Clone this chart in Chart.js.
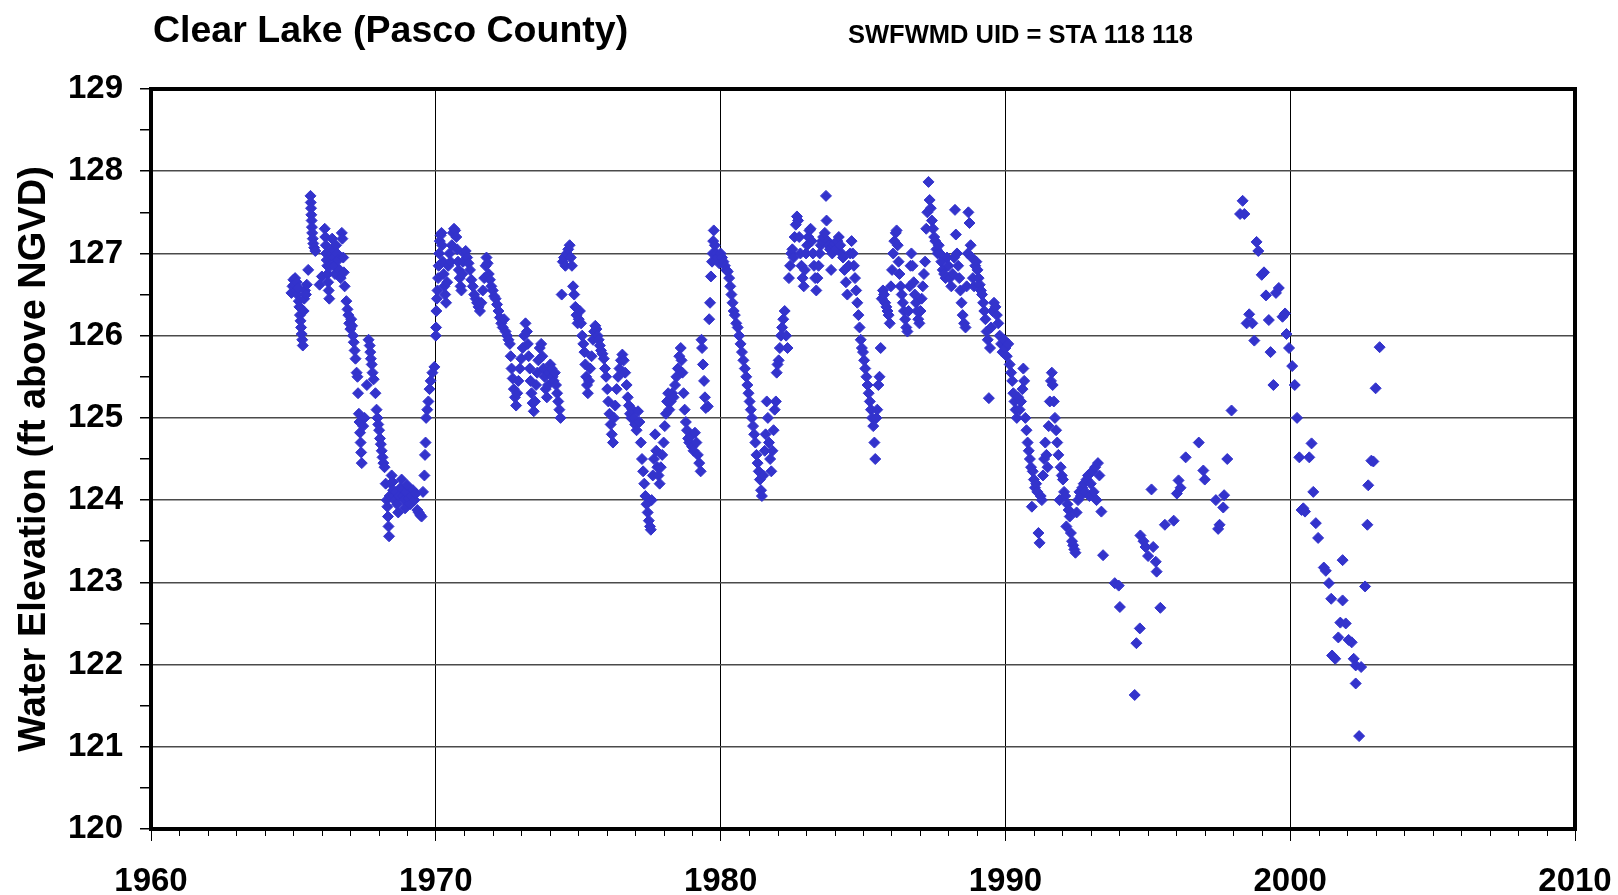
<!DOCTYPE html>
<html lang="en">
<head>
  <meta charset="UTF-8">
  <title>Clear Lake (Pasco County)</title>
  <script src="https://cdn.jsdelivr.net/npm/chart.js"></script>
  <style>
    html, body {
      margin: 0;
      padding: 0;
      background: #fff;
    }

    .wrap {
      position: relative;
      width: 1618px;
      height: 895px;
    }

    .title {
      position: absolute;
      left: 153px;
      top: 10px;
      font: bold 37.5px "Liberation Sans", Arial, sans-serif;
      line-height: 38px;
      color: #000;
      white-space: nowrap;
    }

    .subtitle {
      position: absolute;
      left: 848px;
      top: 21px;
      font: bold 25.5px "Liberation Sans", Arial, sans-serif;
      line-height: 26px;
      color: #000;
      white-space: nowrap;
    }
  </style>
</head>
<body>

  <div class="wrap">
    <canvas id="lakeChart"></canvas>
    <div class="title">Clear Lake (Pasco County)</div>
    <div class="subtitle">SWFWMD UID = STA 118 118</div>
  </div>

  <script>
    // [decimal year, water elevation ft NGVD]
    const obs1965 = [
      [1964.93,126.52],[1964.97,126.60],[1965.00,126.68],[1965.03,126.62],[1965.06,126.70],
      [1965.09,126.55],[1965.12,126.65],[1965.14,126.50],[1965.17,126.58],[1965.19,126.42],
      [1965.21,126.35],[1965.23,126.25],[1965.25,126.18],[1965.27,126.10],[1965.29,126.02],
      [1965.31,125.95],[1965.33,125.88],[1965.36,126.30],[1965.38,126.45],[1965.41,126.55],
      [1965.44,126.50],[1965.47,126.62],[1965.52,126.80],[1965.60,127.70],[1965.61,127.62],
      [1965.62,127.55],[1965.63,127.47],[1965.64,127.40],[1965.65,127.32],[1965.66,127.25],
      [1965.68,127.18],[1965.70,127.12],[1965.73,127.07],[1965.77,127.03],[1965.92,126.62],
      [1966.00,126.72],[1966.10,127.30],[1966.12,127.20],[1966.14,127.10],[1966.15,127.00],
      [1966.17,126.92],[1966.19,126.85],[1966.20,126.75],[1966.22,126.65],[1966.24,126.55],
      [1966.26,126.45],[1966.30,126.85],[1966.33,127.00],[1966.36,127.18],[1966.38,127.05],
      [1966.40,126.95],[1966.43,126.85],[1966.46,126.75],[1966.50,127.10],[1966.53,127.00],
      [1966.57,126.92],[1966.62,126.80],[1966.66,126.70],[1966.70,127.25],[1966.72,127.18],
      [1966.75,126.95],[1966.77,126.77],[1966.80,126.60],[1966.86,126.42],[1966.90,126.32],
      [1966.93,126.25],[1966.96,126.15],[1967.00,126.08],[1967.03,126.20],[1967.06,126.12],
      [1967.09,126.00],[1967.12,125.92],[1967.15,125.82],[1967.18,125.72],[1967.22,125.55],
      [1967.25,125.50],[1967.27,125.30],[1967.30,125.05],[1967.32,124.95],[1967.34,124.82],
      [1967.36,124.70],[1967.38,124.58],[1967.40,124.45],[1967.45,124.90],[1967.50,125.00],
      [1967.58,125.40],[1967.64,125.95],[1967.68,125.88],[1967.70,125.80],[1967.72,125.72],
      [1967.75,125.65],[1967.78,125.55],[1967.82,125.47],[1967.88,125.30],[1967.92,125.10],
      [1967.95,125.00],[1967.98,124.92],[1968.01,124.85],[1968.04,124.75],[1968.07,124.68],
      [1968.10,124.60],[1968.13,124.52],[1968.16,124.45],[1968.20,124.40],[1968.24,124.20],
      [1968.28,124.00],[1968.30,123.92],[1968.32,123.80],[1968.34,123.68],[1968.36,123.56],
      [1968.38,124.05],[1968.42,124.20],[1968.45,124.30],[1968.48,124.22],[1968.50,124.12],
      [1968.53,124.05],[1968.56,124.00],[1968.60,124.10],[1968.64,123.95],[1968.68,123.85],
      [1968.72,124.05],[1968.76,124.15],[1968.80,124.25],[1968.84,124.05],[1968.88,124.00],
      [1968.92,123.90],[1968.96,124.10],[1969.00,124.18],[1969.05,124.02],[1969.10,123.95],
      [1969.15,124.05],[1969.20,124.12],[1969.25,124.00],[1969.30,124.08],[1969.35,123.88],
      [1969.40,123.85],[1969.45,123.82],[1969.50,123.80],[1969.55,124.10],[1969.60,124.30],
      [1969.62,124.55],[1969.64,124.70],[1969.66,125.00],[1969.70,125.10],[1969.74,125.20],
      [1969.78,125.35],[1969.82,125.45],[1969.88,125.55],[1969.95,125.62]
    ];

    const obs1970 = [
      [1970.00,126.00],[1970.01,126.10],[1970.02,126.30],[1970.04,126.45],[1970.06,126.55],
      [1970.08,126.70],[1970.10,126.85],[1970.12,127.00],[1970.14,127.15],[1970.17,127.22],
      [1970.20,127.25],[1970.22,127.10],[1970.25,126.90],[1970.28,126.75],[1970.30,126.60],
      [1970.33,126.50],[1970.36,126.40],[1970.40,126.65],[1970.44,126.85],[1970.48,127.00],
      [1970.52,126.90],[1970.56,127.10],[1970.60,127.25],[1970.64,127.30],[1970.68,127.28],
      [1970.72,127.20],[1970.75,127.05],[1970.78,126.90],[1970.81,126.80],[1970.84,126.70],
      [1970.87,126.60],[1970.90,126.55],[1970.93,126.75],[1970.96,126.90],[1971.00,127.00],
      [1971.05,127.03],[1971.10,126.95],[1971.15,126.88],[1971.20,126.80],[1971.25,126.68],
      [1971.30,126.60],[1971.35,126.50],[1971.40,126.45],[1971.45,126.40],[1971.50,126.35],
      [1971.55,126.30],[1971.60,126.40],[1971.65,126.55],[1971.70,126.70],[1971.75,126.85],
      [1971.78,126.95],[1971.82,126.88],[1971.86,126.75],[1971.90,126.68],[1971.95,126.60],
      [1972.00,126.55],[1972.05,126.48],[1972.10,126.45],[1972.15,126.38],[1972.20,126.30],
      [1972.25,126.22],[1972.30,126.15],[1972.35,126.10],[1972.40,126.20],[1972.45,126.05],
      [1972.50,126.00],[1972.55,125.95],[1972.60,125.90],[1972.63,125.75],[1972.66,125.60],
      [1972.70,125.48],[1972.74,125.35],[1972.78,125.25],[1972.82,125.15],[1972.86,125.30],
      [1972.90,125.45],[1972.95,125.60],[1973.00,125.72],[1973.05,125.85],[1973.10,126.00],
      [1973.15,126.15],[1973.20,126.05],[1973.23,125.90],[1973.26,125.75],[1973.30,125.60],
      [1973.33,125.45],[1973.36,125.30],[1973.40,125.18],[1973.44,125.08],[1973.48,125.20],
      [1973.52,125.40],[1973.56,125.55],[1973.60,125.70],[1973.65,125.85],[1973.70,125.90],
      [1973.74,125.75],[1973.78,125.60],[1973.82,125.50],[1973.86,125.35],[1973.90,125.25],
      [1973.94,125.40],[1973.98,125.55],[1974.02,125.65],[1974.06,125.60],[1974.10,125.50],
      [1974.14,125.45],[1974.18,125.55],[1974.22,125.40],[1974.26,125.30],[1974.30,125.20],
      [1974.34,125.10],[1974.38,125.00],[1974.42,126.50],[1974.46,126.90],[1974.50,126.95],
      [1974.55,126.85],[1974.60,127.00],[1974.65,127.05],[1974.70,127.10],[1974.74,126.95],
      [1974.78,126.85],[1974.82,126.60],[1974.86,126.50],[1974.90,126.35],[1974.94,126.25],
      [1974.98,126.15]
    ];

    const obs1975 = [
      [1975.02,126.20],[1975.06,126.30],[1975.10,126.15],[1975.14,126.00],[1975.18,125.90],
      [1975.22,125.80],[1975.25,125.65],[1975.28,125.50],[1975.31,125.40],[1975.34,125.30],
      [1975.38,125.45],[1975.42,125.60],[1975.47,125.75],[1975.52,125.95],[1975.56,126.05],
      [1975.60,126.12],[1975.64,126.08],[1975.68,126.00],[1975.72,125.95],[1975.76,125.88],
      [1975.80,125.82],[1975.85,125.78],[1975.90,125.72],[1975.94,125.60],[1975.98,125.50],
      [1976.02,125.35],[1976.06,125.20],[1976.10,125.05],[1976.14,124.92],[1976.18,124.80],
      [1976.22,124.70],[1976.26,125.00],[1976.30,125.15],[1976.35,125.35],[1976.40,125.50],
      [1976.45,125.60],[1976.50,125.70],[1976.55,125.77],[1976.60,125.70],[1976.65,125.55],
      [1976.70,125.40],[1976.74,125.25],[1976.78,125.15],[1976.82,125.05],[1976.86,125.00],
      [1976.90,125.10],[1976.95,125.00],[1977.00,124.92],[1977.05,124.85],[1977.10,125.08],
      [1977.15,124.95],[1977.20,124.70],[1977.24,124.50],[1977.28,124.35],[1977.32,124.20],
      [1977.36,124.05],[1977.40,123.95],[1977.44,123.85],[1977.48,123.75],[1977.52,123.68],
      [1977.55,123.64],[1977.58,124.00],[1977.62,124.30],[1977.66,124.50],[1977.70,124.80],
      [1977.74,124.60],[1977.78,124.40],[1977.82,124.30],[1977.86,124.20],[1977.90,124.40],
      [1977.95,124.55],[1978.00,124.70],[1978.04,124.90],[1978.08,125.05],[1978.12,125.20],
      [1978.16,125.30],[1978.20,125.10],[1978.25,125.20],[1978.30,125.30],[1978.35,125.25],
      [1978.40,125.40],[1978.45,125.50],[1978.50,125.60],[1978.55,125.75],[1978.60,125.85],
      [1978.63,125.70],[1978.66,125.55],[1978.70,125.30],[1978.74,125.10],[1978.78,124.95],
      [1978.82,124.85],[1978.86,124.75],[1978.90,124.70],[1978.95,124.78],[1979.00,124.65],
      [1979.05,124.60],[1979.10,124.82],[1979.15,124.70],[1979.20,124.55],[1979.25,124.45],
      [1979.30,124.35],[1979.33,125.95],[1979.35,125.85],[1979.38,125.65],[1979.42,125.45],
      [1979.45,125.25],[1979.48,125.12],[1979.55,125.14],[1979.60,126.20],[1979.63,126.40],
      [1979.66,126.72],[1979.70,126.90],[1979.72,127.00],[1979.74,127.15],[1979.76,127.28],
      [1979.80,127.10],[1979.85,127.00],[1979.90,126.95],[1979.95,126.88]
    ];

    const obs1980 = [
      [1980.00,127.00],[1980.05,126.95],[1980.10,126.90],[1980.15,126.85],[1980.20,126.80],
      [1980.25,126.78],[1980.30,126.70],[1980.34,126.60],[1980.38,126.50],[1980.42,126.40],
      [1980.46,126.30],[1980.50,126.25],[1980.55,126.15],[1980.60,126.10],[1980.65,126.00],
      [1980.70,125.90],[1980.75,125.80],[1980.80,125.70],[1980.85,125.60],[1980.90,125.50],
      [1980.94,125.40],[1980.98,125.30],[1981.02,125.20],[1981.06,125.10],[1981.10,125.00],
      [1981.14,124.90],[1981.18,124.80],[1981.22,124.70],[1981.26,124.55],[1981.30,124.45],
      [1981.34,124.35],[1981.38,124.25],[1981.42,124.12],[1981.45,124.05],[1981.50,124.30],
      [1981.55,124.60],[1981.58,124.80],[1981.62,125.20],[1981.66,125.00],[1981.70,124.70],
      [1981.74,124.50],[1981.78,124.35],[1981.82,124.60],[1981.86,124.85],[1981.90,125.10],
      [1981.94,125.20],[1981.97,125.55],[1982.00,125.65],[1982.04,125.70],[1982.08,125.85],
      [1982.12,126.00],[1982.16,126.10],[1982.20,126.20],[1982.25,126.30],[1982.30,126.00],
      [1982.35,125.85],[1982.40,126.70],[1982.44,126.85],[1982.48,127.00],[1982.52,127.05],
      [1982.56,126.95],[1982.60,127.20],[1982.64,127.35],[1982.68,127.45],[1982.72,127.40],
      [1982.76,127.20],[1982.80,127.00],[1982.84,126.85],[1982.88,126.70],[1982.92,126.60],
      [1982.96,126.80],[1983.00,127.00],[1983.04,127.10],[1983.08,127.20],[1983.12,127.28],
      [1983.16,127.30],[1983.20,127.15],[1983.24,127.00],[1983.28,126.85],[1983.32,126.70],
      [1983.36,126.55],[1983.40,126.70],[1983.44,126.85],[1983.48,127.00],[1983.52,127.10],
      [1983.56,127.15],[1983.60,127.20],[1983.66,127.25],[1983.70,127.70],[1983.72,127.40],
      [1983.76,127.15],[1983.80,127.10],[1983.84,127.05],[1983.88,126.80],[1983.92,127.00],
      [1983.96,127.10],[1984.00,127.12],[1984.05,127.05],[1984.10,127.15],[1984.15,127.20],
      [1984.20,127.10],[1984.25,127.00],[1984.30,126.95],[1984.35,126.80],[1984.40,126.65],
      [1984.45,126.50],[1984.50,126.85],[1984.55,127.00],[1984.60,127.15],[1984.64,127.00],
      [1984.68,126.85],[1984.72,126.70],[1984.76,126.55],[1984.80,126.40],[1984.84,126.25],
      [1984.88,126.10],[1984.92,125.95],[1984.96,125.85]
    ];

    const obs1985 = [
      [1985.00,125.80],[1985.04,125.70],[1985.08,125.60],[1985.12,125.50],[1985.16,125.40],
      [1985.20,125.30],[1985.24,125.20],[1985.28,125.10],[1985.32,125.00],[1985.36,124.90],
      [1985.40,124.70],[1985.43,124.50],[1985.47,125.00],[1985.50,125.10],[1985.54,125.40],
      [1985.58,125.50],[1985.62,125.85],[1985.66,126.45],[1985.70,126.55],[1985.74,126.50],
      [1985.78,126.40],[1985.82,126.35],[1985.86,126.30],[1985.90,126.25],[1985.94,126.15],
      [1985.98,126.60],[1986.02,126.80],[1986.06,127.00],[1986.10,127.15],[1986.15,127.25],
      [1986.18,127.28],[1986.22,127.10],[1986.25,126.90],[1986.28,126.75],[1986.32,126.60],
      [1986.36,126.50],[1986.40,126.40],[1986.44,126.30],[1986.48,126.20],[1986.52,126.10],
      [1986.56,126.05],[1986.60,126.30],[1986.64,126.60],[1986.67,126.85],[1986.70,127.00],
      [1986.74,126.85],[1986.78,126.65],[1986.82,126.50],[1986.86,126.40],[1986.90,126.30],
      [1986.94,126.20],[1986.98,126.15],[1987.02,126.30],[1987.06,126.45],[1987.10,126.60],
      [1987.14,126.75],[1987.18,126.90],[1987.22,127.30],[1987.26,127.50],[1987.30,127.87],
      [1987.34,127.65],[1987.38,127.55],[1987.42,127.40],[1987.46,127.30],[1987.50,127.20],
      [1987.54,127.15],[1987.58,127.05],[1987.62,127.00],[1987.66,127.10],[1987.70,127.00],
      [1987.75,126.90],[1987.80,126.80],[1987.85,126.75],[1987.90,126.70],[1987.95,126.95],
      [1988.00,126.85],[1988.05,126.70],[1988.10,126.60],[1988.15,126.75],[1988.20,126.95],
      [1988.23,127.53],[1988.26,127.23],[1988.30,127.00],[1988.34,126.85],[1988.38,126.70],
      [1988.42,126.55],[1988.46,126.40],[1988.50,126.25],[1988.55,126.15],[1988.60,126.10],
      [1988.64,126.60],[1988.68,127.00],[1988.70,127.50],[1988.74,127.37],[1988.78,127.10],
      [1988.82,126.95],[1988.86,126.70],[1988.90,126.60],[1988.94,126.85],[1988.98,126.90],
      [1989.02,126.80],[1989.06,126.70],[1989.10,126.62],[1989.14,126.55],[1989.18,126.50],
      [1989.22,126.40],[1989.26,126.30],[1989.30,126.20],[1989.34,126.05],[1989.38,125.95],
      [1989.42,125.24],[1989.46,125.85],[1989.50,126.10],[1989.55,126.30],[1989.60,126.40],
      [1989.65,126.35],[1989.70,126.25],[1989.75,126.15],[1989.80,126.00],[1989.85,125.90],
      [1989.90,125.80]
    ];

    const obs1990 = [
      [1989.95,125.95],[1990.00,125.85],[1990.05,125.75],[1990.10,125.90],[1990.15,125.65],
      [1990.20,125.55],[1990.24,125.45],[1990.28,125.30],[1990.32,125.20],[1990.36,125.10],
      [1990.40,125.00],[1990.45,125.25],[1990.50,125.10],[1990.55,125.20],[1990.60,125.35],
      [1990.63,125.60],[1990.66,125.45],[1990.70,125.00],[1990.74,124.85],[1990.78,124.70],
      [1990.82,124.60],[1990.86,124.50],[1990.90,124.40],[1990.93,123.92],[1990.96,124.35],
      [1991.00,124.25],[1991.04,124.15],[1991.08,124.20],[1991.12,124.10],[1991.16,123.60],
      [1991.20,123.48],[1991.24,124.05],[1991.28,124.00],[1991.32,124.30],[1991.36,124.50],
      [1991.40,124.70],[1991.44,124.55],[1991.48,124.40],[1991.52,124.90],[1991.56,125.20],
      [1991.60,125.45],[1991.63,125.55],[1991.66,125.40],[1991.70,125.20],[1991.74,125.00],
      [1991.78,124.85],[1991.82,124.70],[1991.86,124.55],[1991.90,124.00],[1991.94,124.40],
      [1991.98,124.30],[1992.02,124.25],[1992.06,124.10],[1992.10,124.05],[1992.14,123.68],
      [1992.18,123.95],[1992.22,123.88],[1992.26,123.80],[1992.30,123.60],[1992.34,123.50],
      [1992.38,123.45],[1992.42,123.40],[1992.46,123.36],[1992.50,123.85],[1992.55,124.00],
      [1992.60,124.10],[1992.65,124.05],[1992.70,124.15],[1992.75,124.20],[1992.80,124.10],
      [1992.85,124.25],[1992.90,124.30],[1992.95,124.05],[1993.00,124.20],[1993.05,124.35],
      [1993.10,124.10],[1993.15,124.40],[1993.20,124.00],[1993.25,124.45],[1993.30,124.30],
      [1993.37,123.86],[1993.43,123.33]
    ];

    const obsLater = [
      [1993.84,122.99],[1993.98,122.96],[1994.02,122.70],[1994.54,121.63],[1994.60,122.26],
      [1994.72,122.44],[1994.74,123.57],[1994.85,123.50],[1994.92,123.43],[1995.01,123.32],
      [1995.13,124.13],[1995.19,123.43],[1995.28,123.25],[1995.31,123.13],[1995.44,122.69],
      [1995.60,123.70],[1995.91,123.75],[1996.02,124.08],[1996.08,124.24],[1996.15,124.15],
      [1996.33,124.52],[1996.79,124.70],[1996.95,124.36],[1997.00,124.25],[1997.39,124.00],
      [1997.47,123.65],[1997.52,123.70],[1997.65,123.91],[1997.68,124.06],[1997.79,124.50],
      [1997.94,125.09],[1998.24,127.48],[1998.33,127.64],[1998.39,127.48],[1998.47,126.15],
      [1998.56,126.26],[1998.67,126.15],[1998.74,125.94],[1998.82,127.14],[1998.88,127.03],
      [1999.00,126.74],[1999.08,126.77],[1999.15,126.49],[1999.25,126.19],[1999.31,125.80],
      [1999.41,125.40],[1999.50,126.52],[1999.60,126.58],[1999.73,126.23],[1999.82,126.27],
      [1999.87,126.02],[1999.96,125.85],[2000.07,125.63],[2000.16,125.40],[2000.24,125.00],
      [2000.32,124.52],[2000.40,123.88],[2000.46,123.90],[2000.52,123.86],[2000.67,124.52],
      [2000.75,124.69],[2000.81,124.10],[2000.90,123.72],[2000.98,123.54],[2001.18,123.18],
      [2001.25,123.14],[2001.36,122.99],[2001.44,122.80],[2001.47,122.11],[2001.58,122.07],
      [2001.69,122.33],[2001.76,122.51],[2001.84,122.78],[2001.84,123.27],[2001.95,122.50],
      [2002.05,122.30],[2002.16,122.27],[2002.23,122.07],[2002.30,121.99],[2002.30,121.77],
      [2002.42,121.13],[2002.49,121.97],[2002.63,122.95],[2002.71,123.70],[2002.74,124.18],
      [2002.85,124.48],[2002.92,124.47],[2003.00,125.36],[2003.14,125.86]
    ];

    const yearTicks = [1960, 1970, 1980, 1990, 2000, 2010];
    const elevMin = 120;
    const elevMax = 129;

    const allObs = [].concat(obs1965, obs1970, obs1975, obs1980, obs1985, obs1990, obsLater);
    const points = allObs.map(p => ({ x: p[0], y: p[1] }));

    const tickFont = { family: "'Liberation Sans', Arial, sans-serif", size: 33, weight: "bold" };

    // chart frame plus the short yearly ticks under the x axis
    const framePlugin = {
      id: "frame",
      afterDraw(chart) {
        const ctx = chart.ctx;
        const area = chart.chartArea;
        const xScale = chart.scales.x;
        ctx.save();
        ctx.strokeStyle = "#000";
        ctx.lineWidth = 1;
        for (let yr = 1961; yr < 2010; yr++) {
          if (yr % 10 === 0) continue;
          const px = Math.round(xScale.getPixelForValue(yr)) + 0.5;
          ctx.beginPath();
          ctx.moveTo(px, area.bottom);
          ctx.lineTo(px, area.bottom + 7);
          ctx.stroke();
        }
        ctx.lineWidth = 4;
        ctx.strokeRect(area.left, area.top, area.right - area.left, area.bottom - area.top);
        ctx.restore();
      }
    };

    const ctx = document.getElementById("lakeChart").getContext("2d");
    new Chart(ctx, {
      type: "scatter",
      data: {
        datasets: [{
          label: "Water Elevation",
          data: points,
          pointStyle: "rectRot",
          pointRadius: 5.5,
          borderWidth: 1,
          backgroundColor: "#3333cc",
          borderColor: "#3333cc"
        }]
      },
      options: {
        responsive: true,
        maintainAspectRatio: false,
        animation: false,
        layout: {
          padding: { top: 89, right: 43, bottom: 0, left: 0 }
        },
        plugins: {
          legend: { display: false },
          tooltip: { enabled: false }
        },
        scales: {
          x: {
            type: "linear",
            min: yearTicks[0],
            max: yearTicks[yearTicks.length - 1],
            afterFit: scale => {
              scale.height = 66;
              scale.paddingLeft = 0;
              scale.paddingRight = 0;
            },
            border: { display: false },
            grid: {
              color: c => (c.tick && c.tick.value % 10 === 0) ? "#000" : "rgba(0,0,0,0)",
              tickColor: c => (c.tick && c.tick.value % 10 === 0) ? "#000" : "rgba(0,0,0,0)",
              lineWidth: 1,
              tickLength: 12
            },
            ticks: {
              stepSize: 1,
              autoSkip: false,
              maxRotation: 0,
              padding: 21,
              color: "#000",
              font: tickFont,
              callback: v => yearTicks.includes(v) ? String(v) : ""
            }
          },
          y: {
            min: elevMin,
            max: elevMax,
            afterFit: scale => {
              scale.width = 151;
              scale.paddingTop = 0;
              scale.paddingBottom = 0;
            },
            border: { display: false },
            grid: {
              color: c => (c.tick && Number.isInteger(c.tick.value)) ? "#4a4a4a" : "rgba(0,0,0,0)",
              tickColor: "#000",
              lineWidth: 1.5,
              tickLength: 11
            },
            ticks: {
              stepSize: 0.5,
              autoSkip: false,
              padding: 17,
              color: "#000",
              font: tickFont,
              callback: v => Number.isInteger(v) ? String(v) : ""
            },
            title: {
              display: true,
              text: "Water Elevation (ft above NGVD)",
              color: "#000",
              font: { family: "'Liberation Sans', Arial, sans-serif", size: 38, weight: "bold" },
              padding: { top: 12, bottom: 0 }
            }
          }
        }
      },
      plugins: [framePlugin]
    });
  </script>
</body>
</html>
